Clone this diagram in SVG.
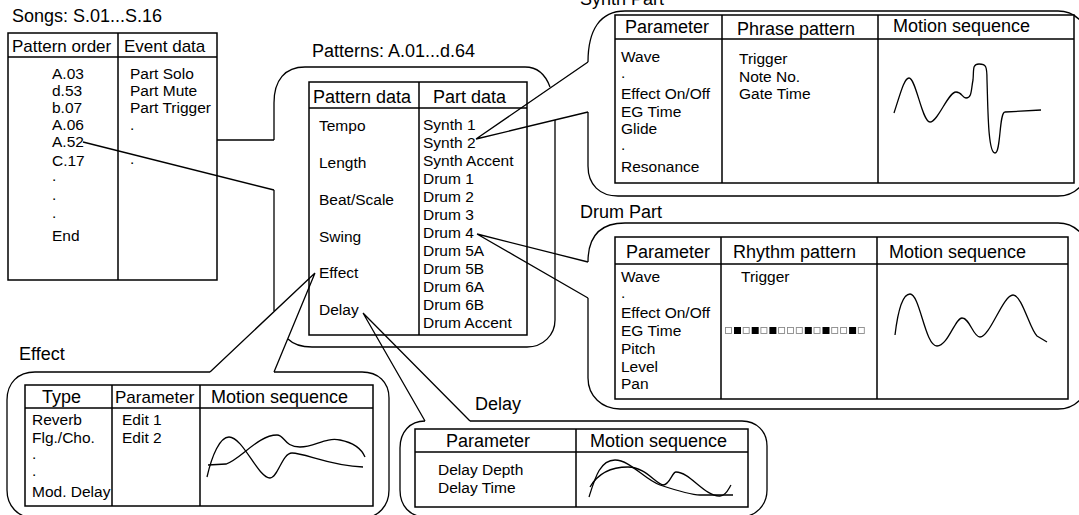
<svg xmlns="http://www.w3.org/2000/svg" width="1079" height="515" viewBox="0 0 1079 515">
<style>
text{font-family:"Liberation Sans",Arial,Helvetica,sans-serif;fill:#000}
.h{font-size:18px}
.hs{font-size:17px}
.b{font-size:15.5px}
.ln{fill:none;stroke:#000;stroke-width:1.3}
.tb{fill:#fff;stroke:#000;stroke-width:1.5}
.dv{fill:none;stroke:#000;stroke-width:1.5}
.sq{fill:#fff;stroke:#8a8a8a;stroke-width:0.9}
.sqf{fill:#000}
</style>
<rect width="1079" height="515" fill="#fff"/>

<g id="songs">
<text class="h" x="12" y="22">Songs: S.01...S.16</text>
<rect class="tb" x="8" y="33" width="209" height="247"/>
<path class="dv" d="M8,57H217M118,33V280"/>
<text class="hs" x="12" y="52">Pattern order</text>
<text class="hs" x="124" y="52">Event data</text>
<g class="b">
<text x="52" y="79">A.03</text>
<text x="52" y="96">d.53</text>
<text x="52" y="113">b.07</text>
<text x="52" y="130">A.06</text>
<text x="52" y="147">A.52</text>
<text x="52" y="166">C.17</text>
<text x="52" y="181">.</text>
<text x="52" y="200">.</text>
<text x="52" y="218">.</text>
<text x="52" y="241">End</text>
<text x="130" y="79">Part Solo</text>
<text x="130" y="96">Part Mute</text>
<text x="130" y="113">Part Trigger</text>
<text x="130" y="130">.</text>
<text x="130" y="164">.</text>
</g>
</g>

<g id="patterns">
<text class="h" x="312" y="57">Patterns: A.01...d.64</text>
<path class="ln" d="M274,140V103C274,80 285,67 305,67H525C538,67 546,76 550,87"/>
<path class="ln" d="M274,190V311"/>
<path class="ln" d="M288,339C293,344 300,347 312,347H527C543,347 555,335 555,320V120"/>
<rect class="tb" x="309" y="82" width="218" height="253"/>
<path class="dv" d="M309,108H527M419,82V335"/>
<text class="h" x="313" y="103">Pattern data</text>
<text class="h" x="433" y="103">Part data</text>
<g class="b">
<text x="319" y="131">Tempo</text>
<text x="319" y="168">Length</text>
<text x="319" y="205">Beat/Scale</text>
<text x="319" y="242">Swing</text>
<text x="319" y="278">Effect</text>
<text x="319" y="315">Delay</text>
<text x="423" y="130">Synth 1</text>
<text x="423" y="148">Synth 2</text>
<text x="423" y="166">Synth Accent</text>
<text x="423" y="184">Drum 1</text>
<text x="423" y="202">Drum 2</text>
<text x="423" y="220">Drum 3</text>
<text x="423" y="238">Drum 4</text>
<text x="423" y="256">Drum 5A</text>
<text x="423" y="274">Drum 5B</text>
<text x="423" y="292">Drum 6A</text>
<text x="423" y="310">Drum 6B</text>
<text x="423" y="328">Drum Accent</text>
</g>
</g>

<g id="synth-part">
<text class="h" x="580" y="5">Synth Part</text>
<path class="ln" d="M588,62C588,30 600,11 625,11H1058C1075,11 1088,24 1088,41V166C1088,183 1075,196 1058,196H618C600,196 588,185 588,166V112"/>
<rect class="tb" x="615" y="15" width="459" height="168"/>
<path class="dv" d="M615,39H1074M722,15V183M878,15V183"/>
<text class="h" x="625" y="33">Parameter</text>
<text class="h" x="737" y="35">Phrase pattern</text>
<text class="h" x="893" y="32">Motion sequence</text>
<g class="b">
<text x="621" y="62">Wave</text>
<text x="621" y="78">.</text>
<text x="621" y="99">Effect On/Off</text>
<text x="621" y="117">EG Time</text>
<text x="621" y="134">Glide</text>
<text x="621" y="150">.</text>
<text x="621" y="172">Resonance</text>
<text x="739" y="64">Trigger</text>
<text x="739" y="82">Note No.</text>
<text x="739" y="99">Gate Time</text>
</g>
<path class="ln" d="M894,113C900,95 904,78 909,78C916,78 922,122 930,122C938,122 948,92 956,92C962,92 962,98 966,98C972,98 971,90 973,80C974,70 972,64 979,64C986,64 987,66 987,80C988,110 988,153 995,153C1001,153 999,112 1005,112L1041,110"/>
</g>

<g id="drum-part">
<text class="h" x="580" y="218">Drum Part</text>
<path class="ln" d="M588,262C588,236 600,223 625,223H1058C1075,223 1088,236 1088,253V379C1088,396 1075,409 1058,409H620C602,409 588,396 588,378V298"/>
<rect class="tb" x="615" y="237" width="453" height="162"/>
<path class="dv" d="M615,264H1068M721,237V399M877,237V399"/>
<text class="h" x="626" y="258">Parameter</text>
<text class="h" x="733" y="258">Rhythm pattern</text>
<text class="h" x="889" y="258">Motion sequence</text>
<g class="b">
<text x="621" y="282">Wave</text>
<text x="621" y="298">.</text>
<text x="621" y="318">Effect On/Off</text>
<text x="621" y="336">EG Time</text>
<text x="621" y="354">Pitch</text>
<text x="621" y="372">Level</text>
<text x="621" y="389">Pan</text>
<text x="741" y="282">Trigger</text>
</g>
<g>
<rect class="sq" x="725.5" y="327.5" width="6" height="6"/>
<rect class="sqf" x="734" y="327" width="7" height="7"/>
<rect class="sq" x="743.2" y="327.5" width="6" height="6"/>
<rect class="sqf" x="751.7" y="327" width="7" height="7"/>
<rect class="sq" x="760.9" y="327.5" width="6" height="6"/>
<rect class="sqf" x="769.4" y="327" width="7" height="7"/>
<rect class="sq" x="778.6" y="327.5" width="6" height="6"/>
<rect class="sq" x="787.5" y="327.5" width="6" height="6"/>
<rect class="sq" x="796.3" y="327.5" width="6" height="6"/>
<rect class="sqf" x="804.8" y="327" width="7" height="7"/>
<rect class="sq" x="814" y="327.5" width="6" height="6"/>
<rect class="sqf" x="822.5" y="327" width="7" height="7"/>
<rect class="sq" x="831.7" y="327.5" width="6" height="6"/>
<rect class="sq" x="840.6" y="327.5" width="6" height="6"/>
<rect class="sqf" x="849.1" y="327" width="7" height="7"/>
<rect class="sq" x="858.3" y="327.5" width="6" height="6"/>
</g>
<path class="ln" d="M895,335C898,310 903,294 910,294C920,294 925,346 937,346C948,346 955,318 962,318C970,318 973,337 980,337C990,337 1003,295 1013,295C1022,295 1030,330 1037,336L1047,342"/>
</g>

<g id="effect">
<text class="h" x="19" y="360">Effect</text>
<path class="ln" d="M210,372H35C18,372 7,383 7,400V490C7,506 18,518 35,518H362C378,518 389,506 389,490V398C389,382 378,372 362,372H274"/>
<rect class="tb" x="25" y="385" width="348" height="121"/>
<path class="dv" d="M25,408H373M112,385V506M200,385V506"/>
<text class="h" x="42" y="403">Type</text>
<text class="hs" x="115" y="403">Parameter</text>
<text class="h" x="211" y="403">Motion sequence</text>
<g class="b">
<text x="32" y="425">Reverb</text>
<text x="32" y="443">Flg./Cho.</text>
<text x="32" y="459">.</text>
<text x="32" y="476">.</text>
<text x="32" y="497">Mod. Delay</text>
<text x="122" y="425">Edit 1</text>
<text x="122" y="443">Edit 2</text>
</g>
<path class="ln" d="M207,477C212,455 220,437 229,437C243,437 258,478 270,478C278,478 282,453 292,453C305,453 330,466 363,467"/>
<path class="ln" d="M208,465L226,464C240,460 258,435 277,435C285,435 284,447 300,447C315,447 325,437 340,440C355,443 362,450 365,457"/>
</g>

<g id="delay">
<text class="h" x="475" y="410">Delay</text>
<path class="ln" d="M425,421C410,421 400,432 400,448V490C400,506 410,517 426,517H740C756,517 767,505 767,490V446C767,431 756,421 742,421H470"/>
<rect class="tb" x="415" y="429" width="333" height="78"/>
<path class="dv" d="M415,452H748M576,429V507"/>
<text class="h" x="446" y="447">Parameter</text>
<text class="h" x="590" y="447">Motion sequence</text>
<g class="b">
<text x="438" y="475">Delay Depth</text>
<text x="438" y="493">Delay Time</text>
</g>
<path class="ln" d="M589,497C595,478 600,460 615,460C630,460 645,480 660,485C672,489 690,495 700,495L733,495"/>
<path class="ln" d="M590,487C600,470 615,467 628,467C645,467 655,483 663,485C670,485 672,472 676,472C690,472 705,497 720,496C726,496 729,488 731,485"/>
</g>

<g id="connectors">
<path class="ln" d="M217,140H274"/>
<path class="ln" d="M83,142L274,190"/>
<path class="ln" d="M476,139L588,62M476,139L588,112"/>
<path class="ln" d="M477,234L588,262M477,234L588,298"/>
<path class="ln" d="M315,273L210,372M315,273L274,372"/>
<path class="ln" d="M363,313L425,421M363,313L470,421"/>
</g>
</svg>
